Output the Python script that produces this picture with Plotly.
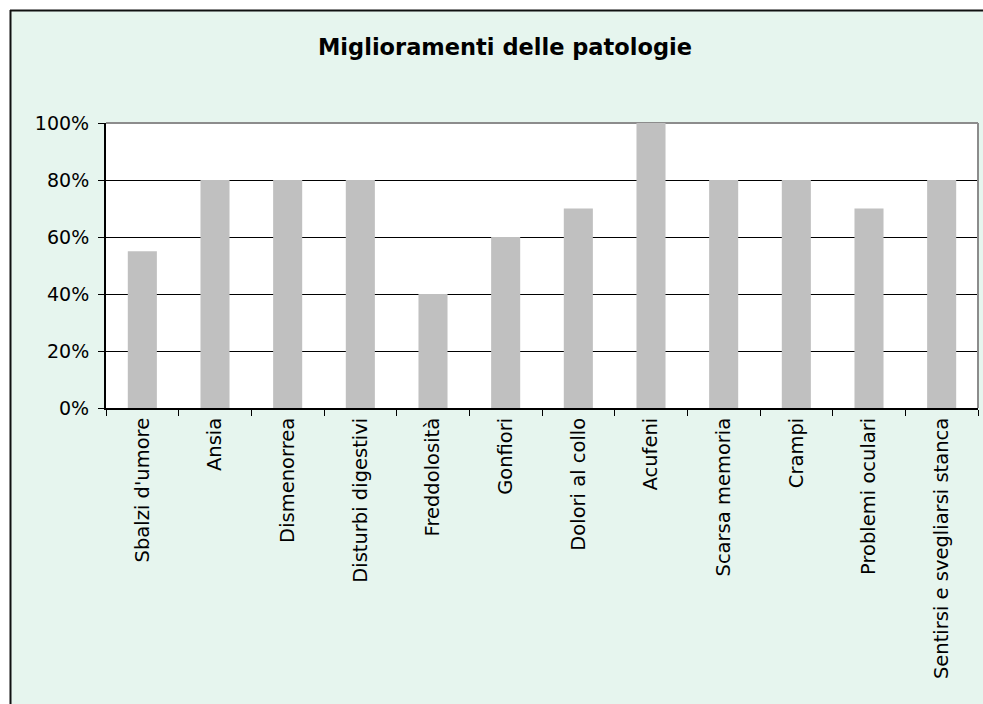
import plotly.graph_objects as go

categories = ["Sbalzi d'umore", "Ansia", "Dismenorrea", "Disturbi digestivi",
              "Freddolosità", "Gonfiori", "Dolori al collo", "Acufeni",
              "Scarsa memoria", "Crampi", "Problemi oculari",
              "Sentirsi e svegliarsi stanca"]
values = [0.55, 0.80, 0.80, 0.80, 0.40, 0.60, 0.70, 1.00, 0.80, 0.80, 0.70, 0.80]
y_ticks = [0, 0.2, 0.4, 0.6, 0.8, 1.0]
y_tick_labels = ["0%", "20%", "40%", "60%", "80%", "100%"]
title_text = "Miglioramenti delle patologie"

W, H = 983, 704
L, T = 106, 123
R = W - 978
B = H - 408
pw, ph = W - L - R, H - T - B

def px(x):
    return (x - L) / pw

def py(y):
    return (H - B - y) / ph

FONT = "DejaVu Sans"
BG = "#E6F5EE"

fig = go.Figure(go.Bar(x=categories, y=values, marker=dict(color="#C0C0C0", line=dict(width=0)),
                       hoverinfo="x+y"))

shapes = [
    # white strips outside chart border (left and top)
    dict(type="rect", xref="paper", yref="paper", x0=px(-2), x1=px(10), y0=py(-2), y1=py(H + 10),
         fillcolor="white", line=dict(width=0), layer="below"),
    dict(type="rect", xref="paper", yref="paper", x0=px(-2), x1=px(W + 10), y0=py(-2), y1=py(10),
         fillcolor="white", line=dict(width=0), layer="below"),
    # chart border lines
    dict(type="line", xref="paper", yref="paper", x0=px(10.5), x1=px(10.5), y0=py(10), y1=py(H + 10),
         line=dict(color="#111111", width=2)),
    dict(type="line", xref="paper", yref="paper", x0=px(10), x1=px(W + 10), y0=py(10.5), y1=py(10.5),
         line=dict(color="#111111", width=2)),
    # plot area top / right border (gray)
    dict(type="line", xref="paper", yref="paper", x0=0, x1=1, y0=1, y1=1,
         line=dict(color="#8C8C8C", width=2), layer="below"),
    dict(type="line", xref="paper", yref="paper", x0=1, x1=1, y0=0, y1=1,
         line=dict(color="#8C8C8C", width=2)),
]

fig.update_layout(
    width=W, height=H,
    margin=dict(l=L, r=R, t=T, b=B),
    paper_bgcolor=BG,
    plot_bgcolor="white",
    bargap=0.6,
    showlegend=False,
    font=dict(family=FONT, color="black", size=19),
    title=dict(text="<b>" + title_text + "</b>", x=505 / W, xanchor="center", xref="container",
               y=1 - 47 / H, yanchor="middle", yref="container",
               font=dict(family=FONT, size=22.5, color="black")),
    shapes=shapes,
    xaxis=dict(
        type="category", tickangle=-90, ticks="outside", ticklen=6, tickwidth=1, tickcolor="black",
        tickson="boundaries", showline=True, linecolor="black", linewidth=2, showgrid=False,
        tickfont=dict(family=FONT, size=19.5, color="black"), automargin=False,
    ),
    yaxis=dict(
        range=[0, 1], tickvals=y_ticks, ticktext=y_tick_labels, ticks="outside", ticklen=6,
        tickwidth=1, tickcolor="black", showline=True, linecolor="black", linewidth=2,
        showgrid=True, gridcolor="black", gridwidth=1, zeroline=False,
        tickfont=dict(family=FONT, size=19, color="black"), automargin=False, fixedrange=True,
        ticklabelstandoff=5,
    ),
)

fig.write_html(
    "out.html",
    config={"displayModeBar": False},
    post_script="document.body.style.margin='0';document.body.style.overflow='hidden';",
)
